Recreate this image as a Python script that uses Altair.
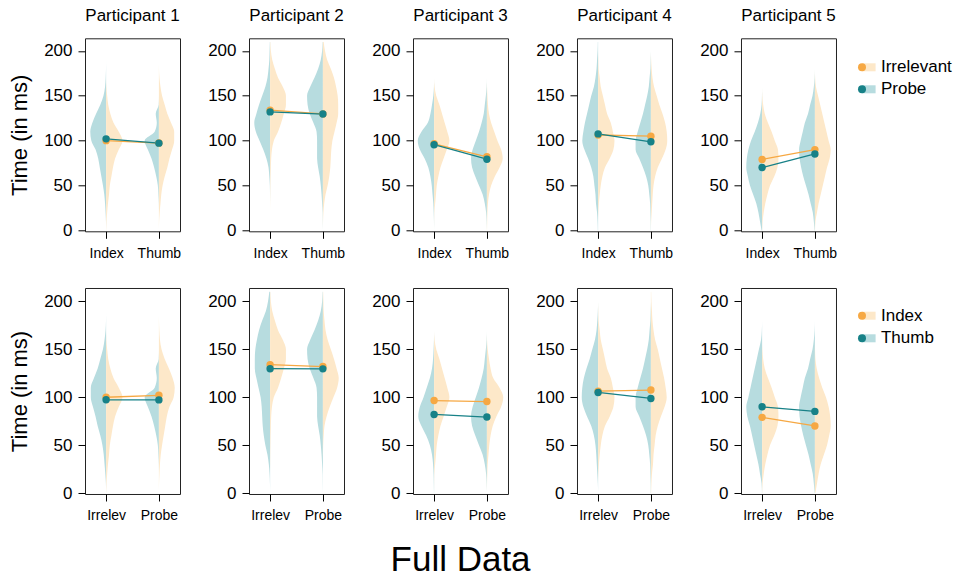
import altair as alt
import pandas as pd

FONT = "Liberation Sans"

# ---------------- data ----------------
Y_LEVELS = [0, 10, 20, 30, 40, 50, 60, 70, 80, 90, 100,
            110, 120, 130, 140, 150, 160, 170, 180, 190, 200, 210]

PARTICIPANTS = ["Participant 1", "Participant 2", "Participant 3",
                "Participant 4", "Participant 5"]
TOP_TICKS = ["Index", "Thumb"]
BOTTOM_TICKS = ["Irrelev", "Probe"]
TOP_GROUPS = ["Irrelevant", "Probe"]
BOTTOM_GROUPS = ["Index", "Thumb"]

# half-violin widths (in x-axis units) at Y_LEVELS
P1_IRR_INDEX = [.002, .008, .02, .035, .055, .07, .10, .13, .17, .24, .31, .24, .14, .08, .04, .02, .005, 0, 0, 0, 0, 0]
P1_IRR_THUMB = [0, .004, .015, .03, .045, .07, .11, .16, .20, .25, .29, .29, .23, .16, .11, .06, .03, .01, .002, 0, 0, 0]
P1_PROBE_INDEX = [0, .003, .01, .02, .035, .06, .09, .12, .15, .20, .28, .30, .26, .19, .11, .05, .02, .008, .002, 0, 0, 0]
P1_PROBE_THUMB = [0, 0, 0, .002, .01, .02, .05, .09, .14, .21, .27, .08, .04, .06, .005, 0, 0, 0, 0, 0, 0, 0]

P2_IRR_INDEX = [0, 0, 0, .002, .004, .007, .01, .015, .02, .035, .07, .15, .21, .26, .30, .30, .24, .15, .09, .04, .015, .005]
P2_IRR_THUMB = [0, .003, .01, .025, .05, .09, .12, .14, .15, .16, .18, .22, .26, .29, .29, .28, .25, .21, .15, .08, .04, .015]
P2_PROBE_INDEX = [0, 0, 0, 0, .002, .005, .015, .03, .07, .13, .20, .27, .30, .26, .21, .15, .09, .05, .03, .015, .01, .005]
P2_PROBE_THUMB = [0, .003, .005, .015, .025, .04, .06, .09, .11, .11, .11, .12, .18, .25, .29, .30, .24, .16, .09, .04, .015, .005]

P3_IRR_INDEX = [0, .002, .005, .02, .035, .05, .08, .12, .18, .24, .29, .25, .20, .15, .10, .04, .01, 0, 0, 0, 0, 0]
P3_IRR_THUMB = [.003, .006, .01, .02, .04, .08, .15, .24, .30, .27, .20, .14, .08, .04, .02, .01, .003, 0, 0, 0, 0, 0]
P3_PROBE_INDEX = [0, .003, .008, .015, .03, .045, .07, .11, .18, .27, .31, .24, .12, .07, .04, .015, .003, 0, 0, 0, 0, 0]
P3_PROBE_THUMB = [0, .005, .015, .04, .08, .15, .22, .28, .30, .27, .21, .15, .10, .06, .04, .02, .005, 0, 0, 0, 0, 0]

P4_IRR_INDEX = [0, 0, .005, .015, .03, .05, .08, .13, .22, .29, .31, .28, .24, .17, .13, .09, .05, .03, .01, .005, 0, 0]
P4_IRR_THUMB = [0, .005, .015, .025, .035, .05, .08, .13, .21, .28, .31, .30, .27, .22, .16, .11, .06, .03, .015, .005, 0, 0]
P4_PROBE_INDEX = [.005, .01, .02, .04, .05, .07, .09, .13, .19, .26, .30, .28, .25, .21, .17, .13, .08, .05, .03, .02, .01, .005]
P4_PROBE_THUMB = [.003, .005, .01, .015, .03, .05, .09, .15, .22, .29, .29, .25, .20, .15, .11, .07, .04, .025, .01, .005, 0, 0]

P5_IRR_INDEX = [.003, .01, .03, .06, .10, .15, .23, .29, .31, .30, .24, .18, .11, .05, .02, .005, 0, 0, 0, 0, 0, 0]
P5_IRR_THUMB = [.003, .01, .04, .07, .11, .15, .19, .23, .28, .30, .26, .22, .18, .14, .10, .06, .02, .005, 0, 0, 0, 0]
P5_PROBE_INDEX = [.01, .04, .07, .11, .17, .23, .27, .30, .29, .26, .21, .14, .08, .035, .01, .003, 0, 0, 0, 0, 0, 0]
P5_PROBE_THUMB = [.005, .02, .04, .08, .12, .17, .22, .26, .29, .30, .27, .23, .19, .13, .09, .045, .02, .005, 0, 0, 0, 0]

# condition means (ms) per participant
IRR_INDEX_MEAN = [100, 134, 96.5, 106.3, 79]
IRR_THUMB_MEAN = [97.3, 129.8, 82, 105, 90]
PROBE_INDEX_MEAN = [102, 132, 95.5, 107.5, 70]
PROBE_THUMB_MEAN = [97.2, 129.6, 79.3, 98.7, 85.2]

DENS = [
    dict(irr_index=P1_IRR_INDEX, irr_thumb=P1_IRR_THUMB, probe_index=P1_PROBE_INDEX, probe_thumb=P1_PROBE_THUMB),
    dict(irr_index=P2_IRR_INDEX, irr_thumb=P2_IRR_THUMB, probe_index=P2_PROBE_INDEX, probe_thumb=P2_PROBE_THUMB),
    dict(irr_index=P3_IRR_INDEX, irr_thumb=P3_IRR_THUMB, probe_index=P3_PROBE_INDEX, probe_thumb=P3_PROBE_THUMB),
    dict(irr_index=P4_IRR_INDEX, irr_thumb=P4_IRR_THUMB, probe_index=P4_PROBE_INDEX, probe_thumb=P4_PROBE_THUMB),
    dict(irr_index=P5_IRR_INDEX, irr_thumb=P5_IRR_THUMB, probe_index=P5_PROBE_INDEX, probe_thumb=P5_PROBE_THUMB),
]

# ---------------- style ----------------
LIGHT_ORANGE = "#FDE8C9"
LIGHT_TEAL = "#B7DCDF"
ORANGE = "#F6A843"
TEAL = "#178187"

PANEL_W = 95
TOP_H = 193
BOTTOM_H = 206

# legend key: light bar running from the dot centre to the right
RECT_PATH = "M0,-1L3.4,-1L3.4,1L0,1Z"

xs = alt.Scale(domain=[0.6, 2.4], nice=False, zero=False)
ys = alt.Scale(domain=[-1, 214], nice=False, zero=False)


def make_panel(row, i):
    d = DENS[i]
    if row == 0:
        groups, ticks, height = TOP_GROUPS, TOP_TICKS, TOP_H
        halves = [(1, -1, d["probe_index"], "Probe"), (1, 1, d["irr_index"], "Irrelevant"),
                  (2, -1, d["probe_thumb"], "Probe"), (2, 1, d["irr_thumb"], "Irrelevant")]
        pts = [(1, IRR_INDEX_MEAN[i], "Irrelevant"), (2, IRR_THUMB_MEAN[i], "Irrelevant"),
               (1, PROBE_INDEX_MEAN[i], "Probe"), (2, PROBE_THUMB_MEAN[i], "Probe")]
        leg_y, row_pad = 20.5, 4
    else:
        groups, ticks, height = BOTTOM_GROUPS, BOTTOM_TICKS, BOTTOM_H
        halves = [(1, -1, d["irr_thumb"], "Thumb"), (1, 1, d["irr_index"], "Index"),
                  (2, -1, d["probe_thumb"], "Thumb"), (2, 1, d["probe_index"], "Index")]
        pts = [(1, IRR_INDEX_MEAN[i], "Index"), (2, PROBE_INDEX_MEAN[i], "Index"),
               (1, IRR_THUMB_MEAN[i], "Thumb"), (2, PROBE_THUMB_MEAN[i], "Thumb")]
        leg_y, row_pad = 19.2, 4.6

    fgroups = [g + " (density)" for g in groups]
    lgroups = [g + " (mean line)" for g in groups]
    vrows = []
    for k, (pos, side, widths, grp) in enumerate(halves):
        for v, w in zip(Y_LEVELS, widths):
            vrows.append({"half": k, "fgrp": grp + " (density)", "v": v,
                          "edge": pos + side * w, "center": pos})
    vdf = pd.DataFrame(vrows)
    pdf = pd.DataFrame([{"pos": p, "v": m, "grp": g, "lgrp": g + " (mean line)"} for p, m, g in pts])

    if i == 4:
        fill_legend = alt.Legend(orient="none", legendX=112.5, legendY=leg_y, title=None,
                                 symbolType=RECT_PATH, symbolSize=64, symbolStrokeWidth=0,
                                 symbolOpacity=1, labelExpr="' '", labelFontSize=17, labelLimit=4,
                                 rowPadding=row_pad, padding=0, labelOffset=10.5)
        color_legend = alt.Legend(orient="none", legendX=112.5, legendY=leg_y, title=None,
                                  symbolType="circle", symbolSize=64, symbolStrokeWidth=0,
                                  symbolOpacity=1, labelFontSize=17, labelColor="black",
                                  rowPadding=row_pad, padding=0, labelOffset=10.5)
    else:
        fill_legend = None
        color_legend = None

    xaxis = alt.Axis(values=[1, 2],
                     labelExpr=f"datum.value == 1 ? '{ticks[0]}' : '{ticks[1]}'",
                     title=None, grid=False, domain=False, tickSize=7, tickColor="black",
                     labelFontSize=14, labelPadding=8, labelColor="black", labelFlush=False)
    if i == 0:
        yaxis = alt.Axis(values=[0, 50, 100, 150, 200], title="Time (in ms)", titleFontSize=22,
                         titleFontWeight="normal", titleColor="black", titlePadding=12,
                         grid=False, domain=False, tickSize=7, tickColor="black",
                         labelFontSize=17, labelPadding=6, labelColor="black", labelFlush=False)
    else:
        yaxis = alt.Axis(values=[0, 50, 100, 150, 200], title=None,
                         grid=False, domain=False, tickSize=7, tickColor="black",
                         labelFontSize=17, labelPadding=6, labelColor="black", labelFlush=False)

    area = alt.Chart(vdf).mark_area(orient="horizontal", interpolate="monotone").encode(
        y=alt.Y("v:Q", scale=ys, axis=yaxis),
        x=alt.X("edge:Q", scale=xs, axis=xaxis),
        x2=alt.X2("center"),
        fill=alt.Fill("fgrp:N", scale=alt.Scale(domain=fgroups, range=[LIGHT_ORANGE, LIGHT_TEAL]),
                      legend=fill_legend),
        detail="half:N",
    )
    line = alt.Chart(pdf).mark_line(strokeWidth=1.3).encode(
        x=alt.X("pos:Q", scale=xs),
        y=alt.Y("v:Q", scale=ys),
        stroke=alt.Stroke("lgrp:N", scale=alt.Scale(domain=lgroups, range=[ORANGE, TEAL]), legend=None),
    )
    dots = alt.Chart(pdf).mark_circle(size=55, opacity=1).encode(
        x=alt.X("pos:Q", scale=xs),
        y=alt.Y("v:Q", scale=ys),
        color=alt.Color("grp:N", scale=alt.Scale(domain=groups, range=[ORANGE, TEAL]),
                        legend=color_legend),
    )
    layer = alt.layer(area, line, dots).properties(width=PANEL_W, height=height)
    if row == 0:
        layer = layer.properties(
            title=alt.Title(PARTICIPANTS[i], fontSize=17, fontWeight="normal", color="black", offset=13))
    return layer


panels = [make_panel(r, i) for r in range(2) for i in range(5)]

chart = (
    alt.concat(*panels, columns=5, spacing={"row": 56.7, "column": 69}, bounds="flush",
               title=alt.Title("Full Data", orient="bottom", fontSize=35, fontWeight="normal",
                               color="black", anchor="middle", offset=20, dx=-20))
    .resolve_scale(fill="independent", color="independent", stroke="independent")
    .properties(padding={"left": 8, "top": 6.3, "right": 0, "bottom": 0})
    .configure(font=FONT)
    .configure_view(stroke="#222222", strokeWidth=1)
)

chart.save("out.html", embed_options={"renderer": "svg", "actions": False})
